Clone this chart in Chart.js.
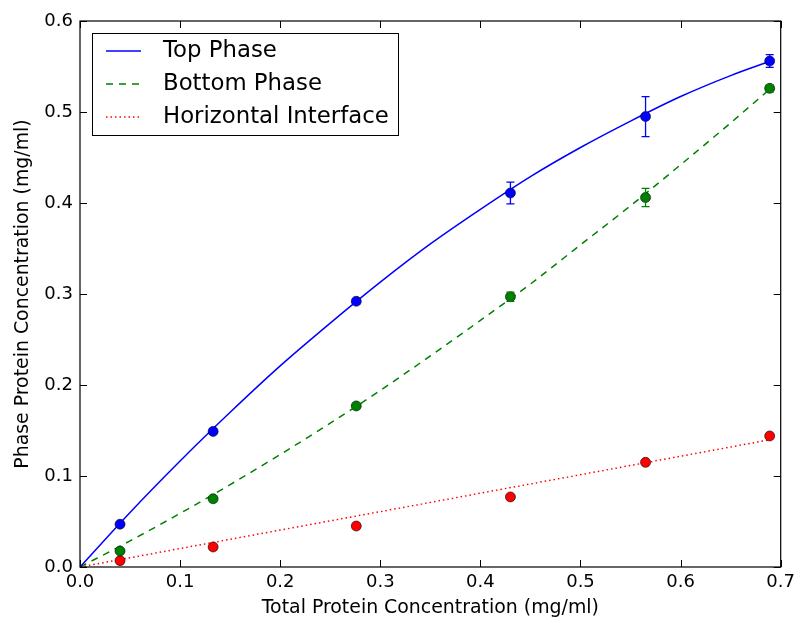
<!DOCTYPE html>
<html>
<head>
<meta charset="utf-8">
<script src="https://cdn.jsdelivr.net/npm/chart.js@4.4.0/dist/chart.umd.min.js"></script>
<style>
  body { margin: 0; background: #fff; }
</style>
</head>
<body>
<canvas id="myChart" width="800" height="624"></canvas>
<script>
// Measured points ------------------------------------
const totalConc = [0.04, 0.133, 0.276, 0.43, 0.565, 0.689];
const topPhase = [0.047, 0.149, 0.292, 0.411, 0.495, 0.556];
const topErr = [0.002, 0.003, 0.003, 0.012, 0.022, 0.007];
const bottomPhase = [0.0176, 0.075, 0.177, 0.297, 0.406, 0.526];
const bottomErr = [0.002, 0.003, 0.003, 0.005, 0.01, 0.004];
const interfacePts = [0.007, 0.022, 0.045, 0.077, 0.115, 0.144];

// Fit curves ------------------------------------------
const fitX = [0, 0.05, 0.1, 0.15, 0.2, 0.25, 0.3, 0.35, 0.4, 0.45, 0.5, 0.55, 0.6, 0.65, 0.69];
const topFit = [0, 0.060, 0.1165, 0.170, 0.221, 0.268, 0.313, 0.355, 0.393, 0.429, 0.461, 0.490, 0.517, 0.540, 0.556];
const bottomFit = [0, 0.0287, 0.0589, 0.0905, 0.1236, 0.158, 0.194, 0.232, 0.271, 0.311, 0.354, 0.397, 0.442, 0.488, 0.526];
const interfaceFitX = [0, 0.69];
const interfaceFit = [0, 0.14];

const legendLabels = ["Top Phase", "Bottom Phase", "Horizontal Interface"];
const xTicks = [0, 0.1, 0.2, 0.3, 0.4, 0.5, 0.6, 0.7];
const yTicks = [0, 0.1, 0.2, 0.3, 0.4, 0.5, 0.6];

const BLUE = "#0000ff";
const GREEN = "#008000";
const RED = "#ff0000";

const toXY = (xs, ys) => xs.map((x, i) => ({ x: x, y: ys[i] }));

function pointSet(ys, color, err) {
  return {
    data: toXY(totalConc, ys),
    showLine: false,
    pointRadius: 5,
    pointBackgroundColor: color,
    pointBorderColor: "#000",
    pointBorderWidth: 0.6,
    errColor: color,
    errors: err,
    order: 0,
  };
}

function lineSet(xs, ys, color, dash) {
  return {
    data: toXY(xs, ys),
    showLine: true,
    borderColor: color,
    borderWidth: 1.5,
    borderDash: dash,
    pointRadius: 0,
    cubicInterpolationMode: "monotone",
    order: 1,
  };
}

const legendItems = [
  { label: legendLabels[0], color: BLUE, dash: [] },
  { label: legendLabels[1], color: GREEN, dash: [7, 6] },
  { label: legendLabels[2], color: RED, dash: [1.5, 3] },
];

// Error bars ------------------------------------------
const errorBars = {
  id: "errorBars",
  afterDatasetsDraw(chart) {
    const ctx = chart.ctx;
    const ys = chart.scales.y;
    ctx.save();
    chart.data.datasets.forEach((ds, di) => {
      if (!ds.errors) return;
      const meta = chart.getDatasetMeta(di);
      ctx.strokeStyle = ds.errColor;
      ctx.lineWidth = 1.3;
      meta.data.forEach((pt, i) => {
        const e = ds.errors[i];
        const v = ds.data[i].y;
        const y1 = ys.getPixelForValue(v + e);
        const y2 = ys.getPixelForValue(v - e);
        ctx.beginPath();
        ctx.moveTo(pt.x, y1);
        ctx.lineTo(pt.x, y2);
        ctx.moveTo(pt.x - 4, y1);
        ctx.lineTo(pt.x + 4, y1);
        ctx.moveTo(pt.x - 4, y2);
        ctx.lineTo(pt.x + 4, y2);
        ctx.stroke();
      });
    });
    ctx.restore();
  },
};

// Frame + inward ticks on all sides, legend box --------
const frameTicks = {
  id: "frameTicks",
  afterDraw(chart) {
    const ctx = chart.ctx;
    const a = chart.chartArea;
    const xs = chart.scales.x;
    const ys = chart.scales.y;
    ctx.save();
    ctx.strokeStyle = "#000";
    ctx.lineWidth = 1;
    ctx.beginPath();
    xTicks.forEach((t) => {
      const px = Math.round(xs.getPixelForValue(t)) + 0.5;
      ctx.moveTo(px, a.bottom);
      ctx.lineTo(px, a.bottom - 7);
      ctx.moveTo(px, a.top);
      ctx.lineTo(px, a.top + 7);
    });
    yTicks.forEach((t) => {
      const py = Math.round(ys.getPixelForValue(t)) + 0.5;
      ctx.moveTo(a.left, py);
      ctx.lineTo(a.left + 7, py);
      ctx.moveTo(a.right, py);
      ctx.lineTo(a.right - 7, py);
    });
    ctx.stroke();
    ctx.lineWidth = 1.2;
    ctx.strokeRect(a.left, a.top, a.right - a.left, a.bottom - a.top);

    // Legend box
    ctx.fillStyle = "#fff";
    ctx.fillRect(92, 33, 307, 103);
    ctx.lineWidth = 1;
    ctx.strokeRect(92.5, 33.5, 306, 102);
    ctx.font = "22.8px 'DejaVu Sans'";
    ctx.textBaseline = "middle";
    legendItems.forEach((item, i) => {
      const y = 51 + i * 33;
      ctx.strokeStyle = item.color;
      ctx.lineWidth = 1.5;
      ctx.setLineDash(item.dash);
      ctx.beginPath();
      ctx.moveTo(106, y);
      ctx.lineTo(141, y);
      ctx.stroke();
      ctx.setLineDash([]);
      ctx.fillStyle = "#000";
      ctx.fillText(item.label, 163, y);
    });
    ctx.restore();
  },
};

const ctx = document.getElementById("myChart").getContext("2d");
const myChart = new Chart(ctx, {
  type: "scatter",
  data: {
    datasets: [
      pointSet(topPhase, BLUE, topErr),
      pointSet(bottomPhase, GREEN, bottomErr),
      pointSet(interfacePts, RED, null),
      lineSet(fitX, topFit, BLUE, []),
      lineSet(fitX, bottomFit, GREEN, [7, 6]),
      lineSet(interfaceFitX, interfaceFit, RED, [1.5, 3]),
    ],
  },
  options: {
    responsive: false,
    animation: false,
    events: [],
    layout: { padding: { top: 21, right: 19, left: 0, bottom: 0 } },
    scales: {
      x: {
        type: "linear",
        min: 0,
        max: 0.7,
        afterFit: (s) => { s.height = 57; },
        afterBuildTicks: (s) => { s.ticks = xTicks.map((v) => ({ value: v })); },
        grid: { display: false, drawTicks: false },
        border: { display: false },
        ticks: {
          padding: 5,
          color: "#000",
          font: { family: "DejaVu Sans", size: 18 },
          callback: (v) => v.toFixed(1),
        },
        title: {
          display: true,
          text: "Total Protein Concentration (mg/ml)",
          color: "#000",
          font: { family: "DejaVu Sans", size: 18.9 },
          padding: { top: 0, bottom: 5 },
        },
      },
      y: {
        type: "linear",
        min: 0,
        max: 0.6,
        afterFit: (s) => { s.width = 80; },
        afterBuildTicks: (s) => { s.ticks = yTicks.map((v) => ({ value: v })); },
        grid: { display: false, drawTicks: false },
        border: { display: false },
        ticks: {
          padding: 7,
          color: "#000",
          font: { family: "DejaVu Sans", size: 18 },
          callback: (v) => v.toFixed(1),
        },
        title: {
          display: true,
          text: "Phase Protein Concentration (mg/ml)",
          color: "#000",
          font: { family: "DejaVu Sans", size: 18.9 },
          padding: { top: 12, bottom: 0 },
        },
      },
    },
    plugins: {
      legend: { display: false },
      tooltip: { enabled: false },
    },
  },
  plugins: [errorBars, frameTicks],
});
</script>
</body>
</html>
